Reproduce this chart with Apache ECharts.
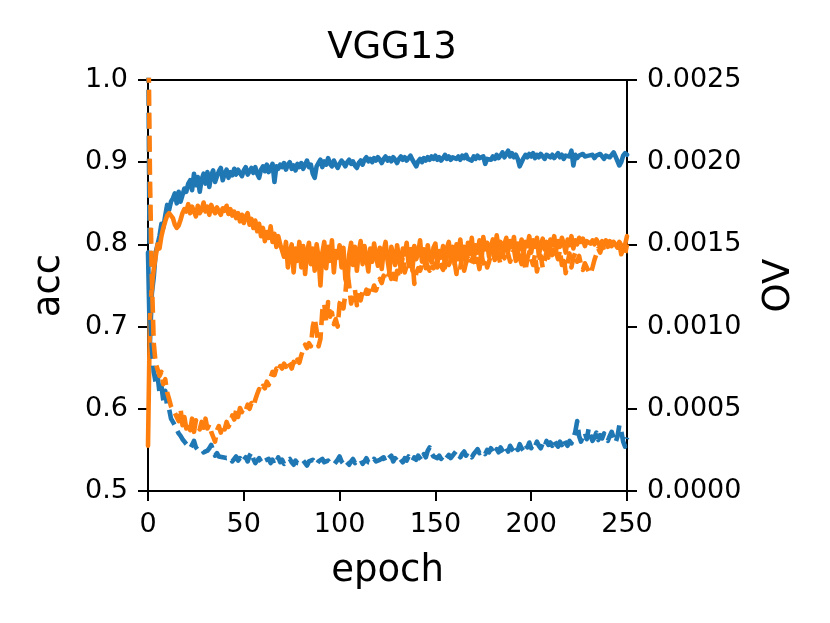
<!DOCTYPE html>
<html>
<head>
<meta charset="utf-8">
<script src="https://cdn.jsdelivr.net/npm/echarts@6/dist/echarts.min.js"></script>
<style>
html,body{margin:0;padding:0;background:#fff;}
#chart{width:830px;height:623px;}
</style>
</head>
<body>
<div id="chart"></div>
<script>
// ---- data ----
const titleText = "VGG13";
const xTicks = [0, 50, 100, 150, 200, 250];
const accTicks = [0.5, 0.6, 0.7, 0.8, 0.9, 1.0];
const ovTicks = [0.0000, 0.0005, 0.0010, 0.0015, 0.0020, 0.0025];

// accuracy (left axis), blue solid, epochs 0..250
const accBlue = [
0.79,0.68,0.74,0.76,0.79,0.80,0.81,0.825,0.82,0.835,
0.848,0.842,0.852,0.856,0.862,0.85,0.864,0.852,0.86,0.868,
0.864,0.874,0.878,0.866,0.886,0.872,0.882,0.864,0.879,0.886,
0.874,0.888,0.87,0.884,0.89,0.876,0.883,0.889,0.893,0.878,
0.886,0.891,0.881,0.888,0.884,0.892,0.885,0.891,0.887,0.883,
0.89,0.894,0.885,0.889,0.893,0.887,0.894,0.886,0.881,0.891,
0.895,0.889,0.897,0.888,0.893,0.898,0.876,0.895,0.892,0.897,
0.894,0.899,0.891,0.897,0.9,0.892,0.896,0.89,0.898,0.894,
0.899,0.892,0.897,0.902,0.894,0.897,0.886,0.881,0.895,0.899,
0.903,0.894,0.901,0.897,0.905,0.898,0.895,0.902,0.897,0.893,
0.898,0.902,0.899,0.895,0.9,0.903,0.898,0.901,0.896,0.893,
0.899,0.902,0.897,0.903,0.906,0.901,0.904,0.9,0.905,0.902,
0.906,0.903,0.899,0.904,0.907,0.902,0.905,0.901,0.906,0.903,
0.899,0.904,0.907,0.903,0.906,0.902,0.905,0.908,0.903,0.899,
0.895,0.901,0.904,0.9,0.905,0.902,0.906,0.903,0.907,0.904,
0.908,0.903,0.906,0.902,0.905,0.909,0.904,0.907,0.903,0.906,
0.908,0.904,0.907,0.903,0.908,0.905,0.909,0.904,0.906,0.902,
0.907,0.904,0.908,0.905,0.903,0.907,0.898,0.904,0.906,0.903,
0.907,0.904,0.909,0.905,0.908,0.912,0.906,0.91,0.914,0.907,
0.911,0.906,0.909,0.904,0.895,0.893,0.905,0.909,0.906,0.91,
0.907,0.911,0.905,0.909,0.906,0.91,0.907,0.904,0.909,0.911,
0.906,0.909,0.905,0.908,0.911,0.906,0.909,0.904,0.908,0.91,
0.907,0.914,0.896,0.909,0.905,0.908,0.906,0.91,0.907,0.905,
0.908,0.906,0.909,0.905,0.908,0.906,0.91,0.907,0.904,0.908,
0.91,0.906,0.909,0.912,0.907,0.905,0.896,0.9,0.908,0.911,0.909
];

// accuracy (left axis), orange solid
const accOrange = [
0.555,0.71,0.75,0.77,0.785,0.80,0.795,0.81,0.82,0.828,
0.835,0.838,0.837,0.832,0.824,0.82,0.823,0.83,0.838,0.843,
0.84,0.849,0.838,0.846,0.84,0.834,0.847,0.838,0.842,0.851,
0.84,0.846,0.836,0.848,0.842,0.838,0.845,0.84,0.836,0.844,
0.841,0.847,0.837,0.843,0.835,0.84,0.832,0.838,0.828,0.836,
0.826,0.834,0.838,0.824,0.831,0.82,0.829,0.816,0.825,0.81,
0.82,0.804,0.815,0.808,0.822,0.803,0.813,0.797,0.81,0.8,
0.798,0.785,0.803,0.772,0.79,0.8,0.766,0.795,0.78,0.803,
0.772,0.798,0.764,0.79,0.802,0.776,0.795,0.768,0.8,0.785,
0.75,0.79,0.803,0.771,0.797,0.78,0.805,0.766,0.792,0.784,
0.799,0.772,0.796,0.758,0.75,0.788,0.802,0.775,0.797,0.768,
0.791,0.804,0.776,0.798,0.783,0.767,0.795,0.779,0.801,0.787,
0.774,0.796,0.77,0.792,0.803,0.781,0.766,0.797,0.787,0.775,
0.799,0.784,0.77,0.795,0.788,0.802,0.776,0.793,0.768,0.798,
0.782,0.79,0.805,0.779,0.794,0.771,0.799,0.785,0.778,0.796,
0.801,0.776,0.792,0.784,0.798,0.772,0.795,0.803,0.781,0.797,
0.776,0.8,0.79,0.806,0.783,0.797,0.778,0.802,0.788,0.808,
0.781,0.799,0.79,0.805,0.778,0.809,0.794,0.802,0.785,0.798,
0.806,0.79,0.811,0.795,0.803,0.787,0.8,0.808,0.792,0.804,
0.797,0.809,0.784,0.801,0.794,0.806,0.789,0.803,0.798,0.81,
0.79,0.805,0.797,0.808,0.786,0.8,0.807,0.794,0.803,0.788,
0.806,0.799,0.81,0.793,0.804,0.797,0.808,0.801,0.79,0.806,
0.799,0.81,0.795,0.805,0.8,0.808,0.803,0.807,0.798,0.804,
0.806,0.801,0.805,0.8,0.806,0.802,0.797,0.804,0.8,0.805,
0.801,0.804,0.798,0.803,0.8,0.796,0.802,0.788,0.795,0.8,0.81
];

// OV (right axis), blue dashed
const ovBlue = [
30e-4,11e-4,8.75e-4,7.25e-4,6.6e-4,7.0e-4,6.0e-4,6.4e-4,5.5e-4,6.1e-4,
5.15e-4,5.0e-4,4.4e-4,4.2e-4,4.0e-4,3.75e-4,3.5e-4,3.35e-4,3.15e-4,3.0e-4,
2.85e-4,2.75e-4,2.6e-4,2.8e-4,3.05e-4,2.65e-4,2.5e-4,2.4e-4,2.55e-4,2.35e-4,
2.25e-4,2.45e-4,2.6e-4,2.8e-4,2.45e-4,2.15e-4,2.3e-4,2.1e-4,2.2e-4,2.05e-4,
2.15e-4,2.0e-4,1.9e-4,2.05e-4,1.8e-4,1.95e-4,2.1e-4,1.85e-4,2.0e-4,1.75e-4,
1.9e-4,2.05e-4,1.8e-4,2.15e-4,2.35e-4,1.95e-4,1.7e-4,1.85e-4,2.0e-4,1.8e-4,
1.65e-4,1.85e-4,1.75e-4,1.95e-4,1.7e-4,1.9e-4,1.6e-4,1.8e-4,2.05e-4,1.75e-4,
1.9e-4,1.65e-4,1.8e-4,1.7e-4,1.95e-4,1.75e-4,1.6e-4,1.85e-4,1.7e-4,1.8e-4,
1.65e-4,1.85e-4,1.75e-4,1.55e-4,1.8e-4,1.7e-4,1.9e-4,1.75e-4,1.6e-4,1.8e-4,
1.7e-4,1.95e-4,1.75e-4,1.65e-4,1.85e-4,1.7e-4,1.8e-4,1.6e-4,1.75e-4,1.9e-4,
2.1e-4,1.8e-4,1.65e-4,1.85e-4,1.75e-4,1.6e-4,1.8e-4,1.95e-4,1.7e-4,1.85e-4,
1.75e-4,1.9e-4,1.65e-4,1.8e-4,2.0e-4,1.75e-4,1.85e-4,1.7e-4,1.95e-4,1.8e-4,
1.7e-4,1.9e-4,1.8e-4,2.05e-4,1.75e-4,1.95e-4,1.85e-4,2.15e-4,1.8e-4,2.0e-4,
1.85e-4,2.05e-4,1.9e-4,1.75e-4,2.0e-4,1.85e-4,2.1e-4,1.95e-4,1.8e-4,2.05e-4,
1.9e-4,2.15e-4,2.0e-4,1.85e-4,2.25e-4,2.05e-4,2.45e-4,2.65e-4,2.3e-4,2.1e-4,
2.2e-4,2.0e-4,2.15e-4,1.95e-4,2.1e-4,1.9e-4,2.05e-4,2.2e-4,2.0e-4,2.15e-4,
2.3e-4,2.45e-4,2.2e-4,2.05e-4,2.25e-4,2.4e-4,2.15e-4,2.35e-4,2.2e-4,2.05e-4,
2.25e-4,2.4e-4,2.55e-4,2.3e-4,2.2e-4,2.45e-4,2.25e-4,2.5e-4,2.35e-4,2.6e-4,
2.4e-4,2.25e-4,2.55e-4,2.35e-4,2.65e-4,2.45e-4,2.3e-4,2.6e-4,2.4e-4,2.75e-4,
2.55e-4,2.4e-4,2.7e-4,2.5e-4,2.85e-4,2.6e-4,2.45e-4,2.8e-4,2.65e-4,2.95e-4,
2.6e-4,2.85e-4,2.7e-4,3.0e-4,2.75e-4,2.6e-4,2.9e-4,2.7e-4,3.05e-4,2.8e-4,
2.95e-4,2.75e-4,3.1e-4,2.85e-4,2.7e-4,3.0e-4,2.8e-4,3.15e-4,2.9e-4,2.75e-4,
3.05e-4,2.9e-4,3.2e-4,3.6e-4,4.25e-4,3.35e-4,3.0e-4,3.3e-4,3.55e-4,3.15e-4,
3.8e-4,3.35e-4,3.05e-4,3.25e-4,3.55e-4,3.1e-4,3.4e-4,3.2e-4,3.5e-4,3.3e-4,
3.05e-4,3.35e-4,3.6e-4,3.25e-4,2.95e-4,3.3e-4,4.0e-4,3.65e-4,3.0e-4,2.7e-4,3.25e-4
];

// OV (right axis), orange dashed
const ovOrange = [
30e-4,19.25e-4,13.0e-4,9.0e-4,7.75e-4,7.4e-4,7.0e-4,7.25e-4,6.5e-4,6.8e-4,
6.0e-4,5.6e-4,5.15e-4,4.9e-4,4.75e-4,4.5e-4,4.25e-4,5.0e-4,4.0e-4,4.5e-4,
3.8e-4,4.1e-4,3.7e-4,4.4e-4,3.6e-4,4.3e-4,3.9e-4,3.75e-4,4.2e-4,3.85e-4,
4.4e-4,3.8e-4,4.05e-4,3.6e-4,3.3e-4,3.0e-4,3.7e-4,3.95e-4,3.55e-4,4.0e-4,
3.75e-4,4.2e-4,3.9e-4,4.15e-4,4.6e-4,4.35e-4,4.9e-4,4.5e-4,5.05e-4,4.8e-4,
5.05e-4,4.9e-4,5.25e-4,5.0e-4,5.35e-4,5.15e-4,5.55e-4,5.9e-4,6.2e-4,6.05e-4,
6.4e-4,6.25e-4,6.65e-4,6.45e-4,6.9e-4,7.25e-4,7.05e-4,7.45e-4,7.25e-4,7.6e-4,
7.45e-4,7.75e-4,7.55e-4,7.9e-4,7.7e-4,7.45e-4,7.85e-4,7.6e-4,8.0e-4,7.8e-4,
8.25e-4,8.6e-4,8.9e-4,8.7e-4,9.0e-4,8.8e-4,10.0e-4,10.5e-4,9.75e-4,8.8e-4,
9.25e-4,11.0e-4,11.4e-4,10.25e-4,11.5e-4,10.6e-4,10.85e-4,10.15e-4,10.45e-4,10.0e-4,
11.4e-4,11.7e-4,11.1e-4,12.0e-4,13.4e-4,12.5e-4,11.4e-4,11.8e-4,12.25e-4,11.3e-4,
11.9e-4,11.6e-4,12.15e-4,11.85e-4,12.25e-4,12.0e-4,12.4e-4,12.1e-4,12.5e-4,12.2e-4,
12.6e-4,12.9e-4,12.65e-4,13.1e-4,12.8e-4,13.0e-4,13.25e-4,12.9e-4,13.2e-4,12.75e-4,
13.4e-4,12.95e-4,13.65e-4,14.25e-4,13.3e-4,13.7e-4,13.45e-4,14.9e-4,14.2e-4,12.6e-4,
13.25e-4,13.55e-4,13.4e-4,13.75e-4,13.5e-4,13.95e-4,13.65e-4,13.4e-4,13.8e-4,13.55e-4,
13.85e-4,13.6e-4,14.0e-4,13.7e-4,13.45e-4,13.9e-4,14.15e-4,13.75e-4,14.05e-4,14.35e-4,
13.95e-4,13.2e-4,14.5e-4,13.6e-4,14.25e-4,13.4e-4,13.9e-4,14.15e-4,13.8e-4,14.05e-4,
14.3e-4,13.7e-4,14.1e-4,13.5e-4,14.4e-4,13.85e-4,14.2e-4,13.6e-4,13.95e-4,14.35e-4,
14.6e-4,14.05e-4,14.85e-4,14.25e-4,13.8e-4,14.5e-4,14.15e-4,14.75e-4,14.4e-4,13.95e-4,
14.3e-4,14.7e-4,14.0e-4,14.55e-4,14.2e-4,13.8e-4,14.45e-4,13.4e-4,14.15e-4,14.55e-4,
14.1e-4,13.75e-4,14.4e-4,13.35e-4,13.95e-4,14.3e-4,13.6e-4,14.0e-4,14.55e-4,14.2e-4,
14.75e-4,14.35e-4,14.9e-4,14.5e-4,14.1e-4,14.65e-4,13.75e-4,14.3e-4,13.25e-4,13.9e-4,
14.45e-4,13.6e-4,14.2e-4,14.5e-4,13.95e-4,14.3e-4,13.75e-4,13.45e-4,13.85e-4,13.6e-4,
13.35e-4,13.2e-4,13.6e-4,14.05e-4,14.4e-4,14.75e-4,14.5e-4,14.9e-4,14.65e-4,15.05e-4,
14.85e-4,15.15e-4,14.95e-4,15.25e-4,15.0e-4,14.85e-4,15.15e-4,14.95e-4,14.7e-4,14.4e-4,15.0e-4
];

const epochs = accBlue.map((_, i) => i);
const pairs = arr => arr.map((v, i) => [epochs[i], v]);

const BLUE = '#1f77b4', ORANGE = '#ff7f0e';
const FONT = 'DejaVu Sans';
const LW = 4.6;
const DASH = [16, 7];

const chart = echarts.init(document.getElementById('chart'), null, {renderer: 'canvas'});

const axisCommon = {
  axisLine: {show: true, onZero: false, lineStyle: {color: '#000', width: 2}},
  axisTick: {show: true, inside: false, length: 10, lineStyle: {color: '#000', width: 2}},
  splitLine: {show: false},
  nameTextStyle: {fontFamily: FONT, fontSize: 37, color: '#000'}
};

chart.setOption({
  animation: false,
  backgroundColor: '#fff',
  title: {
    text: titleText,
    left: 387,
    textAlign: 'center',
    top: 25,
    textStyle: {fontFamily: FONT, fontSize: 37, fontWeight: 'normal', color: '#000'}
  },
  grid: {left: 148, right: 203, top: 80, bottom: 132, containLabel: false,
         show: true, borderColor: '#000', borderWidth: 2, backgroundColor: 'transparent'},
  xAxis: Object.assign({}, axisCommon, {
    type: 'value', min: xTicks[0], max: xTicks[xTicks.length - 1],
    interval: xTicks[1] - xTicks[0],
    name: 'epoch', nameLocation: 'middle', nameGap: 62,
    axisLabel: {fontFamily: FONT, fontSize: 27, color: '#000', margin: 20}
  }),
  yAxis: [
    Object.assign({}, axisCommon, {
      type: 'value', position: 'left', min: accTicks[0], max: accTicks[accTicks.length - 1],
      interval: 0.1,
      name: 'acc', nameLocation: 'middle', nameGap: 80, nameRotate: 90,
      axisLabel: {fontFamily: FONT, fontSize: 27, color: '#000', margin: 20,
                  formatter: v => v.toFixed(1)}
    }),
    Object.assign({}, axisCommon, {
      type: 'value', position: 'right', min: ovTicks[0], max: ovTicks[ovTicks.length - 1],
      interval: 0.0005,
      name: 'OV', nameLocation: 'middle', nameGap: 134, nameRotate: 90,
      axisLabel: {fontFamily: FONT, fontSize: 27, color: '#000', margin: 20,
                  formatter: v => v.toFixed(4)}
    })
  ],
  series: [
    {type: 'line', yAxisIndex: 0, data: pairs(accBlue), showSymbol: false, clip: true,
     lineStyle: {color: BLUE, width: LW, join: 'round', cap: 'round'}, itemStyle: {color: BLUE}},
    {type: 'line', yAxisIndex: 0, data: pairs(accOrange), showSymbol: false, clip: true,
     lineStyle: {color: ORANGE, width: LW, join: 'round', cap: 'round'}, itemStyle: {color: ORANGE}},
    {type: 'line', yAxisIndex: 1, data: pairs(ovBlue), showSymbol: false, clip: true,
     lineStyle: {color: BLUE, width: LW, type: DASH, join: 'round', cap: 'butt'}, itemStyle: {color: BLUE}},
    {type: 'line', yAxisIndex: 1, data: pairs(ovOrange), showSymbol: false, clip: true,
     lineStyle: {color: ORANGE, width: LW, type: DASH, join: 'round', cap: 'butt'}, itemStyle: {color: ORANGE}}
  ]
});
</script>
</body>
</html>
